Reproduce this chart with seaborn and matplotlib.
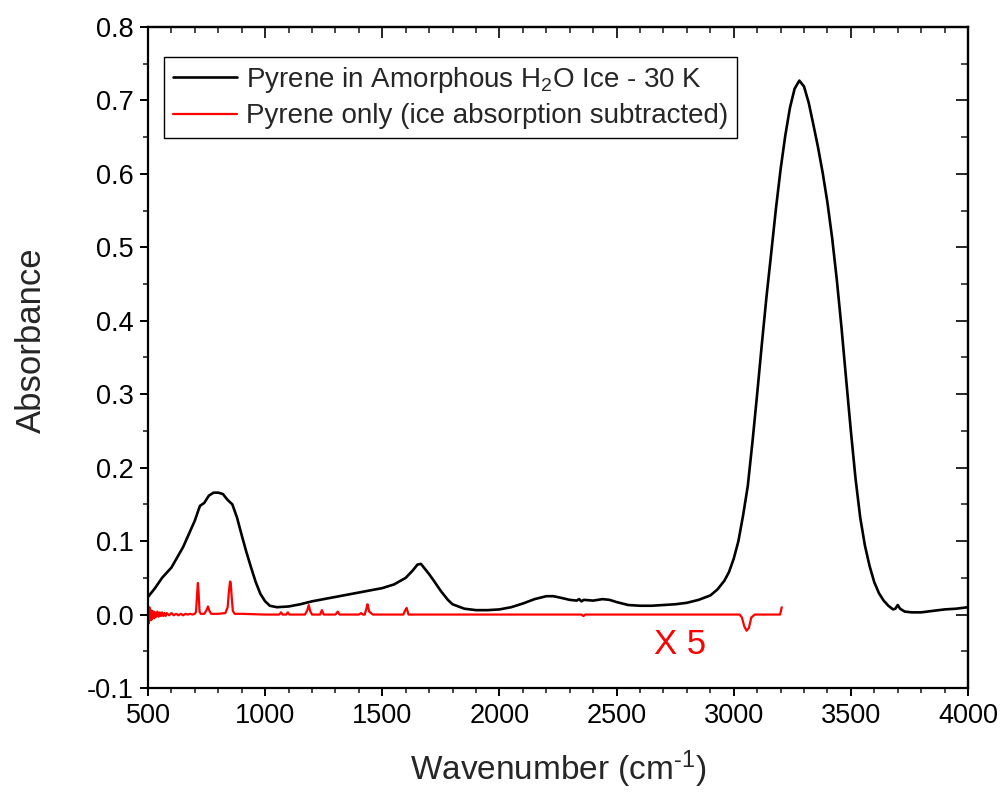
import matplotlib
matplotlib.use("Agg")
import matplotlib.pyplot as plt
from matplotlib.ticker import MultipleLocator
import seaborn as sns
import pandas as pd

# ---------------- data ----------------
wn_black = [500, 510, 530, 560, 600, 650, 700, 715, 722, 740, 760, 780, 800, 820, 840, 860, 880,
            900, 920, 940, 960, 980, 1000, 1020, 1050, 1100, 1150, 1200, 1250, 1300, 1350, 1400,
            1450, 1500, 1550, 1600, 1630, 1650, 1665, 1680, 1700, 1720, 1750, 1780, 1800, 1850,
            1900, 1950, 2000, 2050, 2100, 2150, 2200, 2230, 2260, 2300, 2330, 2340, 2350, 2360,
            2400, 2440, 2470, 2500, 2550, 2600, 2650, 2700, 2750, 2800, 2850, 2900, 2930, 2960,
            2980, 3000, 3020, 3040, 3060, 3080, 3100, 3120, 3140, 3160, 3180, 3200, 3220, 3240,
            3260, 3280, 3300, 3320, 3340, 3360, 3380, 3400, 3420, 3440, 3460, 3480, 3500, 3520,
            3540, 3560, 3580, 3600, 3620, 3640, 3660, 3680, 3690, 3700, 3710, 3730, 3760, 3800,
            3850, 3900, 3950, 4000]
abs_black = [0.024, 0.028, 0.036, 0.050, 0.064, 0.092, 0.128, 0.142, 0.148, 0.152, 0.162, 0.166,
             0.166, 0.164, 0.156, 0.150, 0.132, 0.108, 0.085, 0.064, 0.044, 0.028, 0.018, 0.012,
             0.010, 0.011, 0.014, 0.018, 0.021, 0.024, 0.027, 0.030, 0.033, 0.036, 0.041, 0.050,
             0.060, 0.068, 0.069, 0.063, 0.055, 0.046, 0.032, 0.020, 0.014, 0.008, 0.006, 0.006,
             0.007, 0.010, 0.015, 0.021, 0.025, 0.025, 0.023, 0.020, 0.019, 0.021, 0.018, 0.020,
             0.019, 0.021, 0.020, 0.017, 0.013, 0.012, 0.012, 0.013, 0.014, 0.016, 0.020, 0.026,
             0.034, 0.046, 0.058, 0.076, 0.100, 0.135, 0.175, 0.235, 0.300, 0.368, 0.433, 0.492,
             0.552, 0.606, 0.652, 0.690, 0.716, 0.727, 0.719, 0.697, 0.667, 0.636, 0.601, 0.561,
             0.513, 0.456, 0.391, 0.320, 0.250, 0.185, 0.132, 0.094, 0.066, 0.044, 0.029, 0.019,
             0.012, 0.007, 0.008, 0.013, 0.008, 0.004, 0.003, 0.003, 0.005, 0.007, 0.008, 0.010]

wn_red = [500, 503, 506, 509, 512, 515, 518, 521, 524, 527, 530, 535, 540, 545, 550, 555, 560,
          565, 570, 575, 580, 590, 600, 610, 620, 630, 640, 650, 660, 670, 680, 690, 700, 705,
          710, 713, 716, 720, 725, 740, 750, 756, 762, 770, 800, 830, 840, 845, 850, 853, 857,
          862, 870, 900, 1000, 1060, 1068, 1074, 1080, 1090, 1097, 1103, 1110, 1170, 1180, 1186,
          1192, 1200, 1235, 1242, 1250, 1300, 1310, 1318, 1400, 1410, 1416, 1425, 1432, 1437,
          1444, 1460, 1590, 1598, 1604, 1612, 1650, 2000, 2350, 2358, 2366, 2500, 3000, 3025,
          3035, 3045, 3055, 3065, 3075, 3090, 3100, 3190, 3198, 3205]
abs_red = [0.000, -0.012, 0.010, -0.008, 0.006, -0.007, 0.005, -0.004, 0.004, -0.005, 0.003,
           -0.003, 0.004, -0.003, 0.003, -0.002, 0.003, -0.002, 0.002, -0.002, 0.002, -0.001,
           0.002, -0.001, 0.001, -0.001, 0.001, -0.001, 0.001, 0.000, 0.001, 0.000, 0.001, 0.004,
           0.030, 0.043, 0.030, 0.004, 0.001, 0.001, 0.006, 0.011, 0.005, 0.001, 0.001, 0.002,
           0.010, 0.030, 0.045, 0.044, 0.025, 0.005, 0.001, 0.001, 0.000, 0.000, 0.003, 0.000,
           0.000, 0.000, 0.003, 0.000, 0.000, 0.000, 0.006, 0.013, 0.005, 0.000, 0.000, 0.006,
           0.000, 0.000, 0.004, 0.000, 0.000, 0.002, 0.000, 0.000, 0.008, 0.014, 0.004, 0.000,
           0.000, 0.006, 0.009, 0.000, 0.000, 0.000, 0.000, -0.002, 0.000, 0.000, 0.000, 0.000,
           -0.004, -0.016, -0.022, -0.018, -0.004, 0.000, 0.000, 0.000, 0.000, 0.010]

label_black = "Pyrene in Amorphous H$_2$O Ice - 30 K"
label_red = "Pyrene only (ice absorption subtracted)"
x_label = "Wavenumber (cm$^{\\text{-}1}$)"
y_label = "Absorbance"
annot_text = "X 5"

# ---------------- style ----------------
sns.set_style("white")
plt.rcParams['font.family'] = ['Liberation Sans', 'DejaVu Sans']
plt.rcParams['mathtext.fontset'] = 'custom'
plt.rcParams['mathtext.rm'] = 'Liberation Sans'
plt.rcParams['mathtext.it'] = 'Liberation Sans:italic'
plt.rcParams['axes.unicode_minus'] = False

fig = plt.figure(figsize=(10.04, 7.98), dpi=100)
ax = fig.add_axes([148/1004, 1 - 688/798, 820/1004, 661/798])

df_b = pd.DataFrame({"wn": wn_black, "A": abs_black})
df_r = pd.DataFrame({"wn": wn_red, "A": abs_red})
sns.lineplot(data=df_b, x="wn", y="A", color="black", lw=1.9, ax=ax, label=label_black,
             sort=False, estimator=None)
sns.lineplot(data=df_r, x="wn", y="A", color="#ff0000", lw=1.6, ax=ax, label=label_red,
             sort=False, estimator=None)

ax.set_xlim(500, 4000)
ax.set_ylim(-0.1, 0.8)
ax.xaxis.set_major_locator(MultipleLocator(500))
ax.xaxis.set_minor_locator(MultipleLocator(100))
ax.yaxis.set_major_locator(MultipleLocator(0.1))
ax.yaxis.set_minor_locator(MultipleLocator(0.05))
ax.yaxis.set_major_formatter(matplotlib.ticker.FormatStrFormatter('%.1f'))

for s in ax.spines.values():
    s.set_visible(True)
    s.set_color("black")
    s.set_linewidth(1.6)

ax.tick_params(which='major', direction='out', length=5.5, width=1.4, labelsize=19.5,
               colors='black', pad=5, bottom=True, left=True, top=False, right=False)
ax.tick_params(which='minor', direction='out', length=3.5, width=1.2,
               bottom=True, left=True, top=False, right=False)

secx = ax.secondary_xaxis('top')
secx.xaxis.set_major_locator(MultipleLocator(500))
secx.xaxis.set_minor_locator(MultipleLocator(100))
secx.tick_params(which='major', direction='in', length=8, width=1.4, labeltop=False)
secx.tick_params(which='minor', direction='in', length=4.5, width=1.2)
secx.spines['top'].set_linewidth(1.6)

secy = ax.secondary_yaxis('right')
secy.yaxis.set_major_locator(MultipleLocator(0.1))
secy.yaxis.set_minor_locator(MultipleLocator(0.05))
secy.tick_params(which='major', direction='in', length=9, width=1.4, labelright=False)
secy.tick_params(which='minor', direction='in', length=5, width=1.2)
secy.spines['right'].set_linewidth(1.6)

ax.set_xlabel(x_label, fontsize=24, labelpad=14)
ax.set_ylabel(y_label, fontsize=25)
ax.yaxis.set_label_coords(-0.122, 0.526)

ax.text(2771, -0.041, annot_text, color="#ff0000", fontsize=25, ha="center", va="center")

leg = ax.legend(loc="upper left", bbox_to_anchor=(0.02, 0.955), fontsize=20,
                frameon=True, fancybox=False, edgecolor="black", framealpha=1,
                handlelength=2.3, handletextpad=0.35, borderpad=0.3, labelspacing=0.3,
                borderaxespad=0)
leg.get_frame().set_linewidth(1.0)

fig.savefig("out.png", dpi=100)
